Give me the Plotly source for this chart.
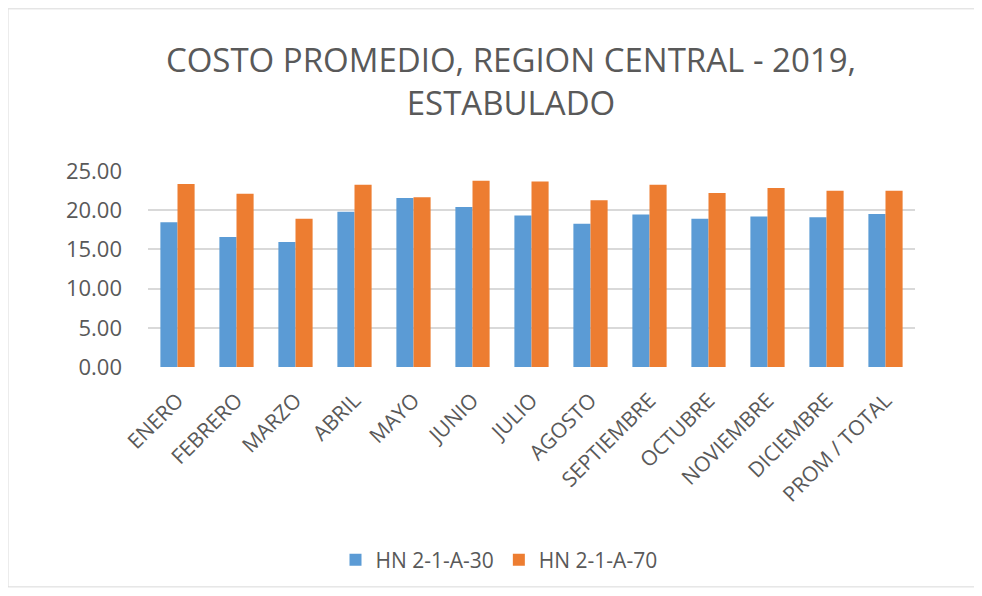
import plotly.graph_objects as go

categories = ["ENERO", "FEBRERO", "MARZO", "ABRIL", "MAYO", "JUNIO", "JULIO",
              "AGOSTO", "SEPTIEMBRE", "OCTUBRE", "NOVIEMBRE", "DICIEMBRE", "PROM / TOTAL"]
hn_30 = [18.47, 16.57, 15.93, 19.79, 21.56, 20.42, 19.32, 18.26, 19.44, 18.90, 19.19, 19.10, 19.53]
hn_70 = [23.34, 22.11, 18.90, 23.25, 21.64, 23.76, 23.67, 21.26, 23.25, 22.20, 22.83, 22.49, 22.49]
y_ticks = [0, 5, 10, 15, 20, 25]

# page body has an 8px margin, so figure coordinates = screen coordinates - 8
W, H = 970, 582
L, R, T, B = 140, 63, 163, 222

fig = go.Figure()
fig.add_trace(go.Bar(x=categories, y=hn_30, name="HN 2-1-A-30",
                     marker=dict(color="#5B9BD5", line=dict(width=0))))
fig.add_trace(go.Bar(x=categories, y=hn_70, name="HN 2-1-A-70",
                     marker=dict(color="#ED7D31", line=dict(width=0))))

ph = H - T - B
def px2paper_y(p):
    return (H - B - p) / ph

fig.update_layout(
    width=W, height=H,
    margin=dict(l=L, r=R, t=T, b=B),
    paper_bgcolor="white", plot_bgcolor="white",
    barmode="group", bargap=0.42, bargroupgap=0,
    font=dict(family="Open Sans", color="#595959"),
    title=dict(text="COSTO PROMEDIO, REGION CENTRAL - 2019,<br>ESTABULADO",
               x=(511 - 8) / W, xref="container", xanchor="center",
               y=1 - 64 / H, yref="container", yanchor="middle",
               font=dict(size=33, color="#595959", family="Open Sans")),
    xaxis=dict(tickangle=-45, tickfont=dict(size=21, color="#595959"),
               showgrid=False, showline=False, ticks="", ticklabelstandoff=16),
    yaxis=dict(range=[0, 25], tickvals=y_ticks, tickformat=".2f",
               tickfont=dict(size=22, color="#595959"),
               showgrid=True, gridcolor="#D9D9D9", gridwidth=1.5,
               zeroline=False, showline=False, ticks="", ticklabelstandoff=25),
    legend=dict(orientation="h", x=(499 - 8 - L) / (W - L - R), xanchor="center", xref="paper",
                y=px2paper_y(552), yanchor="middle",
                font=dict(size=21, color="#595959"),
                traceorder="normal"),
    shapes=[dict(type="rect", xref="paper", yref="paper",
                 x0=-L / (W - L - R), x1=1 + (R - 1) / (W - L - R),
                 y0=-(B - 1) / ph, y1=1 + T / ph,
                 line=dict(color="#D9D9D9", width=1), layer="below")],
)

fig.write_html("out.html")
